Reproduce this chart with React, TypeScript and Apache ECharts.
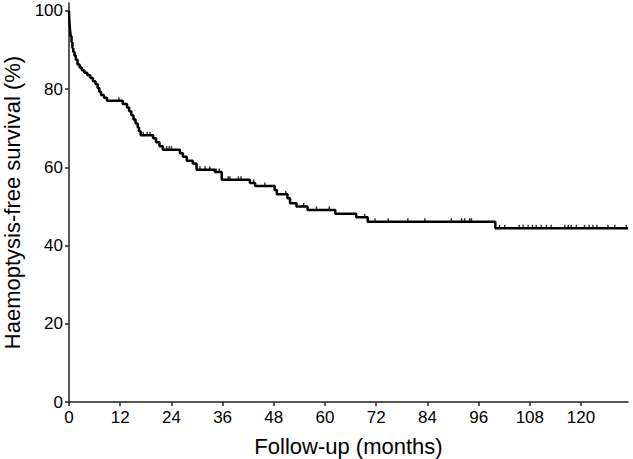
import React, { useEffect, useRef } from "react";
import * as echarts from "echarts";

const eventTimes = [
  0, 0.1, 0.25, 0.4, 0.6, 0.8, 1.0, 1.3, 1.6, 2.0, 2.5, 3.0, 3.6, 4.3, 5.0, 5.6, 6.2, 6.7,
  7.1, 7.5, 8.2, 8.9, 12.6, 13.6, 14.1, 14.6, 15.1, 15.6, 16.1, 16.4, 16.8, 19.7, 20.4,
  21.2, 22.0, 26.0, 26.7, 27.6, 29.0, 29.9, 34.2, 35.8, 42.4, 43.6, 48.2, 48.7, 51.2,
  51.8, 53.3, 55.9, 62.4, 67.3, 70.0, 99.9, 131,
];
const survival = [
  100, 97, 95, 93.5, 92, 90.5, 89.5, 88.5, 87.5, 86.3, 85.5, 84.8, 84.2, 83.5, 82.8, 82.0,
  81.3, 80.3, 79.3, 78.5, 77.8, 77.0, 76.2, 75.3, 74.3, 73.3, 72.2, 71.2, 70.2, 69.2, 68.2,
  67.4, 66.4, 65.4, 64.5, 63.6, 62.7, 61.7, 61.0, 59.4, 58.8, 56.8, 56.0, 55.2, 54.2, 53.1,
  52.1, 50.8, 50.0, 49.1, 48.1, 47.2, 46.1, 44.4, 44.4,
];
const censorTimes = [
  11.7, 17.4, 18.3, 19.0, 22.9, 23.5, 24.0, 30.7, 31.9, 33.0, 34.5, 35.2, 37.3, 37.7, 39.7,
  40.3, 43.3, 45.9, 50.8, 55.0, 58.0, 61.0, 69.3, 71.7, 74.8, 79.4, 83.4, 89.6, 92.0, 92.7,
  93.9, 94.3, 100.9, 102.1, 105.5, 106.4, 107.6, 108.6, 109.5, 110.7, 111.9, 113.0, 116.2,
  117.0, 117.7, 118.9, 120.8, 121.9, 122.8, 123.7, 126.3, 127.9, 130.6,
];
const xTicks = [0, 12, 24, 36, 48, 60, 72, 84, 96, 108, 120];
const yTicks = [0, 20, 40, 60, 80, 100];

function survAt(t: number): number {
  let s = survival[0];
  for (let i = 0; i < eventTimes.length; i++) {
    if (eventTimes[i] <= t) s = survival[i];
  }
  return s;
}

export default function App() {
  const ref = useRef<HTMLDivElement>(null);
  useEffect(() => {
    if (!ref.current) return;
    const chart = echarts.init(ref.current, null, { renderer: "svg" });
    const font = "'Liberation Sans', Arial, sans-serif";
    const axisCol = "#222";
    chart.setOption({
      animation: false,
      grid: { left: 69, right: 5, top: 3, bottom: 57, containLabel: false, outerBoundsMode: "none" },
      xAxis: {
        type: "value",
        min: 0,
        max: 131,
        name: "Follow-up (months)",
        nameLocation: "middle",
        nameGap: 33,
        nameTextStyle: { fontFamily: font, fontSize: 22, color: "#000" },
        axisLine: { show: true, lineStyle: { color: axisCol, width: 1.5 } },
        axisTick: { show: true, length: 4, lineStyle: { color: axisCol, width: 1.5 }, customValues: xTicks },
        axisLabel: { fontFamily: font, fontSize: 17, color: "#000", margin: 7, customValues: xTicks },
        splitLine: { show: false },
      },
      yAxis: {
        type: "value",
        min: 0,
        max: 102,
        name: "Haemoptysis-free survival (%)",
        nameLocation: "middle",
        nameGap: 46,
        nameTextStyle: { fontFamily: font, fontSize: 22, color: "#000" },
        axisLine: { show: true, lineStyle: { color: axisCol, width: 1.5 } },
        axisTick: { show: true, length: 4, lineStyle: { color: axisCol, width: 1.5 }, customValues: yTicks },
        axisLabel: { fontFamily: font, fontSize: 17, color: "#000", margin: 6, customValues: yTicks },
        splitLine: { show: false },
      },
      series: [
        {
          type: "line",
          step: "end",
          showSymbol: false,
          data: eventTimes.map((t, i) => [t, survival[i]]),
          lineStyle: { color: "#000", width: 2.5 },
          z: 3,
        },
        {
          type: "scatter",
          symbol: "rect",
          symbolSize: [1.5, 3],
          symbolOffset: [0, -2],
          itemStyle: { color: "#000" },
          data: censorTimes.map((t) => [t, survAt(t)]),
          z: 4,
        },
      ],
    });
    return () => chart.dispose();
  }, []);
  return <div ref={ref} style={{ width: 633, height: 459, position: "absolute", left: 0, top: 0 }} />;
}
